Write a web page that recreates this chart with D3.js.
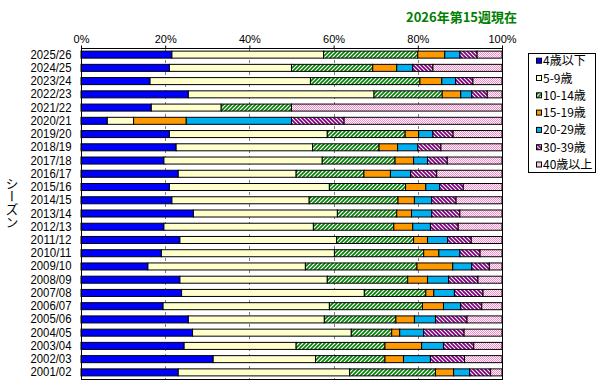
<!DOCTYPE html>
<html>
<head>
<meta charset="utf-8">
<script src="https://cdn.jsdelivr.net/npm/d3@7"></script>
<style>
body { margin: 0; background: #fff; }
svg { display: block; }
</style>
</head>
<body>
<script>
// seasons, newest first (top of chart)
var seasons = ["2025/26","2024/25","2023/24","2022/23","2021/22","2020/21","2019/20","2018/19","2017/18",
	"2016/17","2015/16","2014/15","2013/14","2012/13","2011/12","2010/11","2009/10","2008/09","2007/08",
	"2006/07","2005/06","2004/05","2003/04","2002/03","2001/02"];

var groups = ["4歳以下","5-9歳","10-14歳","15-19歳","20-29歳","30-39歳","40歳以上"];

// percentages
var age0_4   = [21.6,21.0,16.4,25.5,16.7,6.25,21.0,22.6,19.7,23.1,21.0,21.6,26.7,19.7,23.5,19.1,15.9,23.5,23.9,19.5,25.5,26.5,24.5,31.4,23.1];
var age5_9   = [36.0,29.0,38.1,44.1,16.6,6.25,37.5,32.4,37.6,28.0,38.0,32.6,34.2,35.5,37.2,41.1,37.4,35.0,43.4,39.5,32.3,37.7,26.6,24.3,40.7];
var age10_14 = [22.4,19.3,26.0,16.2,16.7,0,18.5,15.8,17.3,16.1,18.1,21.1,14.1,19.1,18.3,21.2,26.5,19.1,14.6,22.1,17.0,9.6,21.1,16.5,20.4];
var age15_19 = [6.4,5.7,5.2,4.4,0,12.5,3.2,4.4,4.4,6.3,4.8,3.9,3.5,4.5,3.3,3.6,8.5,4.7,1.9,5.0,4.4,1.9,8.7,4.4,4.3];
var age20_29 = [3.6,3.8,3.3,2.6,0,25.0,3.4,4.8,3.3,4.8,3.3,4.1,4.8,4.2,4.8,5.0,4.5,5.0,4.9,4.1,5.0,5.7,5.2,6.4,3.8];
var age30_39 = [4.1,4.8,4.1,3.7,0,12.5,4.8,5.5,4.7,6.2,5.6,5.8,6.7,6.6,5.6,4.8,4.2,7.0,6.8,5.0,7.5,9.6,7.2,8.1,5.0];
var age40p   = [5.9,16.4,6.9,3.5,50.0,37.5,11.6,14.5,13.0,15.5,9.2,10.9,10.0,10.4,7.3,5.2,3.0,5.7,4.5,4.8,8.3,9.0,6.7,8.9,2.7];

var xTicks = [0,20,40,60,80,100];

var w = 607, h = 384;
var plotL = 81, plotR = 502, plotT = 48, plotB = 379;

var svg = d3.select("body").append("svg")
	.attr("width", w)
	.attr("height", h)
	.style("font-family", "'Liberation Sans', Arial, sans-serif");

svg.append("rect").attr("width", w).attr("height", h).attr("fill", "#fff");

// fill patterns
var defs = svg.append("defs");

var p1 = defs.append("pattern").attr("id", "hatchGreen")
	.attr("patternUnits", "userSpaceOnUse").attr("width", 4).attr("height", 4);
p1.append("rect").attr("width", 4).attr("height", 4).attr("fill", "#fff");
p1.append("path").attr("d", "M-1,1 L1,-1 M0,4 L4,0 M3,5 L5,3")
	.attr("stroke", "#008000").attr("stroke-width", 1.6);

var p2 = defs.append("pattern").attr("id", "hatchPurple")
	.attr("patternUnits", "userSpaceOnUse").attr("width", 4).attr("height", 4);
p2.append("rect").attr("width", 4).attr("height", 4).attr("fill", "#fff");
p2.append("path").attr("d", "M-1,3 L1,5 M0,0 L4,4 M3,-1 L5,1")
	.attr("stroke", "#800080").attr("stroke-width", 1.8);

var p3 = defs.append("pattern").attr("id", "checkPink")
	.attr("patternUnits", "userSpaceOnUse").attr("width", 2).attr("height", 2);
p3.append("rect").attr("width", 2).attr("height", 2).attr("fill", "#fff");
p3.append("rect").attr("width", 1).attr("height", 1).attr("fill", "#ff88cc");
p3.append("rect").attr("x", 1).attr("y", 1).attr("width", 1).attr("height", 1).attr("fill", "#ff88cc");

var fills = ["#0000ff", "#ffffcc", "url(#hatchGreen)", "#ff9900", "#00b0f0", "url(#hatchPurple)", "url(#checkPink)"];

// data table for the stack
var table = seasons.map(function(s, i) {
	return {
		season: s,
		g0: age0_4[i], g1: age5_9[i], g2: age10_14[i], g3: age15_19[i],
		g4: age20_29[i], g5: age30_39[i], g6: age40p[i]
	};
});
var keys = ["g0","g1","g2","g3","g4","g5","g6"];

var stacked = d3.stack().keys(keys).offset(d3.stackOffsetExpand)(table);

var x = d3.scaleLinear().domain([0, 1]).range([plotL, plotR]);
var y = d3.scaleBand().domain(seasons).range([plotT, plotB])
	.paddingInner(0.47).paddingOuter(0.235);

// dashed gridlines
svg.append("g")
	.selectAll("line")
	.data(xTicks.slice(1, -1))
	.enter()
	.append("line")
	.attr("x1", function(d) { return Math.round(x(d / 100)) + 0.5; })
	.attr("x2", function(d) { return Math.round(x(d / 100)) + 0.5; })
	.attr("y1", plotT)
	.attr("y2", plotB)
	.attr("stroke", "#808080")
	.attr("stroke-dasharray", "3,3");

// bars
var layer = svg.append("g")
	.selectAll("g")
	.data(stacked)
	.enter()
	.append("g")
	.attr("fill", function(d, i) { return fills[i]; });

layer.selectAll("rect")
	.data(function(d) { return d.filter(function(v) { return v[1] - v[0] > 0; }); })
	.enter()
	.append("rect")
	.attr("x", function(d) { return x(d[0]); })
	.attr("y", function(d) { return y(d.data.season); })
	.attr("width", function(d) { return x(d[1]) - x(d[0]); })
	.attr("height", y.bandwidth())
	.attr("stroke", "#000")
	.attr("stroke-width", 1);

// plot frame
svg.append("rect")
	.attr("x", plotL + 0.5).attr("y", plotT + 0.5)
	.attr("width", plotR - plotL).attr("height", plotB - plotT)
	.attr("fill", "none")
	.attr("stroke", "#000");

// top axis
var xAxis = d3.axisTop(x)
	.tickValues(xTicks.map(function(d) { return d / 100; }))
	.tickFormat(function(d) { return Math.round(d * 100) + "%"; })
	.tickSize(3)
	.tickSizeOuter(0)
	.tickPadding(3);

var ax = svg.append("g")
	.attr("transform", "translate(0," + (plotT + 0.5) + ")")
	.call(xAxis);
ax.select(".domain").remove();
ax.selectAll("text")
	.attr("font-size", "11px")
	.attr("font-family", "'Liberation Sans', Arial, sans-serif")
	.attr("fill", "#000");

// season labels
svg.append("g")
	.selectAll("text")
	.data(seasons)
	.enter()
	.append("text")
	.text(function(d) { return d; })
	.attr("x", 71.5)
	.attr("y", function(d) { return y(d) + y.bandwidth() / 2 + 4; })
	.attr("text-anchor", "end")
	.attr("font-size", "12px")
	.attr("textLength", 41)
	.attr("lengthAdjust", "spacingAndGlyphs")
	.attr("fill", "#000");

// axis title, vertical
svg.append("text")
	.text("シーズン")
	.attr("x", 12)
	.attr("y", 203)
	.attr("text-anchor", "middle")
	.style("writing-mode", "vertical-rl")
	.attr("font-family", "'Noto Sans CJK JP', sans-serif")
	.attr("font-size", "13px")
	.attr("fill", "#000");

// title
svg.append("text")
	.text("2026年第15週現在")
	.attr("x", 517)
	.attr("y", 22)
	.attr("text-anchor", "end")
	.attr("font-family", "'Noto Sans CJK JP', sans-serif")
	.attr("font-weight", "bold")
	.attr("font-size", "13px")
	.attr("fill", "#008000");

// legend
var lg = svg.append("g");
lg.append("rect")
	.attr("x", 528.5).attr("y", 53.5)
	.attr("width", 67).attr("height", 119)
	.attr("fill", "#fff")
	.attr("stroke", "#000");

var item = lg.selectAll("g")
	.data(groups)
	.enter()
	.append("g")
	.attr("transform", function(d, i) { return "translate(536," + (60.7 + i * 17.3) + ")"; });

item.append("rect")
	.attr("x", 0.5).attr("y", -2.5)
	.attr("width", 5).attr("height", 5)
	.attr("fill", function(d, i) { return fills[i]; })
	.attr("stroke", "#000");

item.append("text")
	.text(function(d) { return d; })
	.attr("x", 7)
	.attr("y", 4.5)
	.attr("font-family", "'Noto Sans CJK JP', sans-serif")
	.attr("font-size", "12px")
	.attr("fill", "#000");
</script>
</body>
</html>
